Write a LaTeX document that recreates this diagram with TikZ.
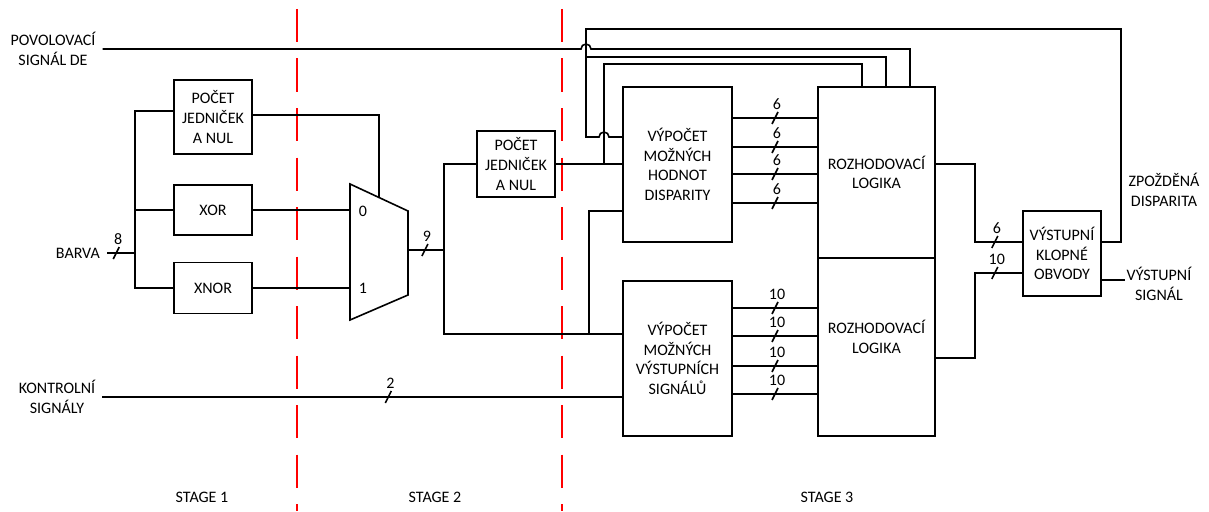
\documentclass[tikz,border=0pt]{standalone}
\usepackage{fontspec}
\setmainfont{Carlito}
\usepackage{tikz}

\tikzset{
  bus/.pic={
    \draw[wire] (-3,6) -- (3,-6);
    \node[popis] at (2,-14) {\tikzpictext};
  }
}

\begin{document}
\begin{tikzpicture}[x=1pt, y=-1pt,
    wire/.style={line width=1.6pt},
    blok/.style={draw, rectangle, line width=1.6pt, inner sep=0pt, align=center, font=\fontsize{16}{19.7}\selectfont},
    popis/.style={inner sep=1pt, align=center, font=\fontsize{16}{19.7}\selectfont},
    hranice/.style={draw=red, line width=1.6pt, dash pattern=on 33pt off 16.5pt}]
  \useasboundingbox (0,0) rectangle (1209,511);

  % hranice stupnu
  \draw[hranice] (297,9) -- (297,511);
  \draw[hranice] (562,9) -- (562,511);
  \node[popis] (st1) at (202,497) {STAGE 1};
  \node[popis] (st2) at (435,497) {STAGE 2};
  \node[popis] (st3) at (827,497) {STAGE 3};

  % vstupy a vystupy
  \node[popis] (de) at (53,49) {POVOLOVACÍ\\SIGNÁL DE};
  \node[popis, anchor=east] (barva) at (101,253) {BARVA};
  \node[popis] (kontrol) at (57,397) {KONTROLNÍ\\SIGNÁLY};
  \node[popis] (zpozd) at (1164,190) {ZPOŽDĚNÁ\\DISPARITA};
  \node[popis] (vystup) at (1159,284) {VÝSTUPNÍ\\SIGNÁL};

  % bloky
  \node[blok, minimum width=78, minimum height=74] (pocet1) at (213,117) {POČET\\JEDNIČEK\\A NUL};
  \node[blok, minimum width=78, minimum height=50] (xor) at (213,210) {XOR};
  \node[blok, minimum width=78, minimum height=51] (xnor) at (213,288) {XNOR};
  \node[blok, minimum width=78, minimum height=66] (pocet2) at (516,164) {POČET\\JEDNIČEK\\A NUL};
  \node[blok, minimum width=109, minimum height=155] (vypd) at (677.5,164.5) {VÝPOČET\\MOŽNÝCH\\HODNOT\\DISPARITY};
  \node[blok, minimum width=109, minimum height=155] (vyps) at (677.5,358.5) {VÝPOČET\\MOŽNÝCH\\VÝSTUPNÍCH\\SIGNÁLŮ};
  \node[blok, minimum width=117, minimum height=171] (rozh1) at (876.5,172.5) {ROZHODOVACÍ\\LOGIKA};
  \node[blok, minimum width=117, minimum height=178] (rozh2) at (876.5,347) {ROZHODOVACÍ\\LOGIKA\\\phantom{X}};
  \node[blok, minimum width=78, minimum height=85] (klop) at (1062,253.5) {VÝSTUPNÍ\\KLOPNÉ\\OBVODY};

  % multiplexor
  \draw[wire] (350,184) -- (408,211) -- (408,295) -- (350,320) -- cycle;
  \coordinate (mux0) at (350,210);
  \coordinate (mux1) at (350,288);
  \coordinate (muxs) at (379,197.5);
  \coordinate (muxout) at (408,250);
  \node[popis] (n0) at (363,211) {0};
  \node[popis] (n1) at (363,288) {1};

  % stage 1
  \coordinate (rozb) at (135,253);
  \draw[wire] ([xshift=6pt]barva.east) -- pic[pos=.33, pic text=8]{bus} (rozb);
  \draw[wire] (pocet1.west |- 0,111) -| (135,288) -- (xnor.west);
  \draw[wire] (135,210) -- (xor.west);
  \draw[wire] (pocet1.east |- 0,115) -| (muxs);
  \draw[wire] (xor.east) -- (mux0);
  \draw[wire] (xnor.east) -- (mux1);

  % stage 2
  \coordinate (rozv) at (444,250);
  \draw[wire] (muxout) -- pic[pos=.47, pic text=9]{bus} (rozv);
  \draw[wire] (pocet2.west) -| (444,334) -- (vyps.west |- 0,334);
  \draw[wire] (589,334) |- (vypd.west |- 0,211);
  \draw[wire] (pocet2.east) -- (vypd.west |- pocet2.east);
  \draw[wire] (604,164) -- (604,64) -| (rozh1.north -| 862,0);
  \draw[wire] ([xshift=6pt]kontrol.east) -- pic[pos=.55, pic text=2]{bus} (vyps.west |- kontrol.east);

  % zpetne vazby
  \draw[wire] ([xshift=6pt]de.east) -- (581,49) arc[start angle=180, end angle=0, radius=5pt] -- (910,49) -- (rozh1.north -| 910,0);
  \draw[wire] (klop.east |- 0,242) -- (1121,242) -- (1121,29) -- (586,29) -- (586,137) -- (599,137)
    arc[start angle=180, end angle=0, radius=5pt] -- (vypd.west |- 0,137);
  \draw[wire] (586,57) -| (rozh1.north -| 886,0);

  % stage 3
  \foreach \y in {118,147,174,203}
    \draw[wire] (vypd.east |- 0,\y) -- pic[pos=.5, pic text=6]{bus} (rozh1.west |- 0,\y);
  \foreach \y in {308,336,366,394}
    \draw[wire] (vyps.east |- 0,\y) -- pic[pos=.5, pic text=10]{bus} (rozh2.west |- 0,\y);
  \draw[wire] (rozh1.east |- 0,164) -| (975,242) -- pic[pos=.42, pic text=6]{bus} (klop.west |- 0,242);
  \draw[wire] (rozh2.east |- 0,358) -| (975,273) -- pic[pos=.42, pic text=10]{bus} (klop.west |- 0,273);
  \draw[wire] (klop.east |- 0,280) -- (vystup.west |- 0,280);
\end{tikzpicture}
\end{document}
